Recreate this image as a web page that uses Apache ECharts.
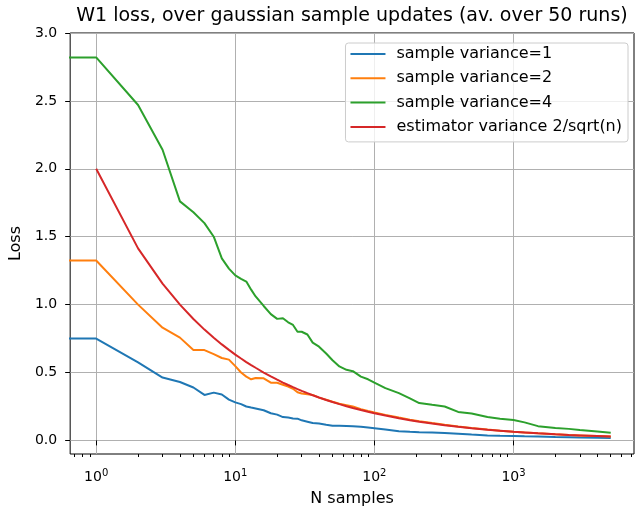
<!DOCTYPE html>
<html>
<head>
<meta charset="utf-8">
<title>W1 loss</title>
<script src="https://cdn.jsdelivr.net/npm/echarts@6.0.0/dist/echarts.min.js"></script>
<style>
    html, body { margin: 0; padding: 0; background: #fff; }
    #chart { width: 635px; height: 512px; }
</style>
</head>
<body>
<div id="chart"></div>
<script>
// n samples, the first point stands for n=0 (matplotlib clips it to the left edge)
var nSamples = [0.1, 1, 2, 3, 4, 5, 6, 7, 8, 9, 10, 11, 12, 13, 14, 16, 18, 20, 22, 24, 26, 28, 30, 33, 36, 40, 45, 50, 56, 63,
    70, 80, 90, 100, 120, 150, 180, 210, 260, 320, 400, 500, 650, 800, 1000, 1200, 1500, 2000, 2500, 3000, 4000, 5000];
var lossVar1 = [0.75, 0.75, 0.575, 0.463, 0.43, 0.39, 0.335, 0.352, 0.338, 0.30,
    0.28, 0.267, 0.25, 0.242, 0.235, 0.222, 0.20, 0.19, 0.172, 0.168,
    0.162, 0.16, 0.148, 0.138, 0.128, 0.124, 0.115, 0.108, 0.108, 0.107,
    0.105, 0.10, 0.095, 0.09, 0.08, 0.068, 0.064, 0.061, 0.058, 0.054,
    0.049, 0.043, 0.037, 0.034, 0.033, 0.031, 0.029, 0.026, 0.024, 0.022,
    0.019, 0.017];
var lossVar2 = [1.325, 1.325, 1.00, 0.83, 0.757, 0.665, 0.665, 0.635, 0.607, 0.595,
    0.547, 0.50, 0.47, 0.45, 0.46, 0.457, 0.425, 0.425, 0.41, 0.397,
    0.38, 0.355, 0.345, 0.34, 0.335, 0.315, 0.30, 0.285, 0.27, 0.26,
    0.25, 0.23, 0.217, 0.206, 0.188, 0.168, 0.153, 0.142, 0.128, 0.115,
    0.103, 0.092, 0.08, 0.072, 0.064, 0.058, 0.052, 0.045, 0.04, 0.037,
    0.032, 0.029];
var lossVar4 = [2.82, 2.82, 2.47, 2.14, 1.76, 1.68, 1.60, 1.50, 1.34, 1.265,
    1.215, 1.19, 1.17, 1.11, 1.06, 0.99, 0.93, 0.895, 0.90, 0.87,
    0.85, 0.80, 0.80, 0.78, 0.72, 0.69, 0.64, 0.59, 0.545, 0.52,
    0.51, 0.47, 0.45, 0.425, 0.385, 0.348, 0.31, 0.275, 0.262, 0.25,
    0.21, 0.198, 0.172, 0.16, 0.15, 0.133, 0.105, 0.092, 0.085, 0.076,
    0.066, 0.057];
// estimator 2/sqrt(n) starts at n=1
var nEstimator = nSamples.slice(1);
var lossEstimator = [2.0, 1.414, 1.155, 1.0, 0.894, 0.816, 0.756, 0.707, 0.667, 0.632,
    0.603, 0.577, 0.555, 0.535, 0.5, 0.471, 0.447, 0.426, 0.408, 0.392,
    0.378, 0.365, 0.348, 0.333, 0.316, 0.298, 0.283, 0.267, 0.252, 0.239,
    0.224, 0.211, 0.2, 0.183, 0.163, 0.149, 0.138, 0.124, 0.112, 0.1,
    0.089, 0.078, 0.071, 0.063, 0.058, 0.052, 0.045, 0.04, 0.037, 0.032,
    0.028];

var seriesNames = ['sample variance=1', 'sample variance=2', 'sample variance=4', 'estimator variance 2/sqrt(n)'];
var xMajorTicks = [1, 10, 100, 1000];
var xMinorTicks = [0.7, 0.8, 0.9, 2, 3, 4, 5, 6, 7, 8, 9, 20, 30, 40, 50, 60, 70, 80, 90,
    200, 300, 400, 500, 600, 700, 800, 900, 2000, 3000, 4000, 5000, 6000, 7000];
var yTicks = [0, 0.5, 1.0, 1.5, 2.0, 2.5, 3.0];

var FONT = 'DejaVu Sans';
var colors = ['#1f77b4', '#ff7f0e', '#2ca02c', '#d62728'];

function pairs(xs, ys) {
    return xs.map(function (x, i) { return [x, ys[i]]; });
}

function lineSeries(name, data, color) {
    return {
        name: name,
        type: 'line',
        data: data,
        symbol: 'none',
        clip: true,
        lineStyle: { color: color, width: 2 },
        itemStyle: { color: color },
        emphasis: { disabled: true }
    };
}

var chart = echarts.init(document.getElementById('chart'));
var option = {
    animation: false,
    textStyle: { fontFamily: FONT },
    graphic: [{
        type: 'text',
        x: 352,
        y: 16,
        style: {
            text: 'W1 loss, over gaussian sample updates (av. over 50 runs)',
            font: '19px "DejaVu Sans"',
            fill: '#000',
            align: 'center',
            verticalAlign: 'middle'
        }
    }],
    legend: {
        orient: 'vertical',
        right: 7,
        top: 43,
        icon: 'rect',
        itemWidth: 35,
        itemHeight: 2,
        itemGap: 8.3,
        padding: [3, 6, 7, 5],
        backgroundColor: 'rgba(255,255,255,0.8)',
        borderColor: '#cccccc',
        borderWidth: 1,
        borderRadius: 3,
        textStyle: { fontFamily: FONT, fontSize: 16, color: '#000', lineHeight: 16, padding: [0, 0, 0, 6] },
        data: seriesNames
    },
    grid: {
        left: 68,
        top: 33,
        right: 1,
        bottom: 55,
        show: true,
        borderColor: '#000',
        borderWidth: 1,
        backgroundColor: 'transparent'
    },
    xAxis: [{
        type: 'log',
        logBase: 10,
        min: 0.65,
        max: 7350,
        name: 'N samples',
        nameLocation: 'middle',
        nameGap: 37,
        nameTextStyle: { fontFamily: FONT, fontSize: 16, color: '#000', verticalAlign: 'top' },
        axisLine: { show: false },
        axisTick: { show: true, length: 5, lineStyle: { color: '#000' }, customValues: xMajorTicks },
        axisLabel: {
            customValues: xMajorTicks,
            margin: 14,
            color: '#000',
            fontFamily: FONT,
            fontSize: 14,
            formatter: function (v) {
                return '10{sup|' + Math.round(Math.log10(v)) + '}';
            },
            rich: {
                sup: { fontSize: 10, fontFamily: FONT, color: '#000', padding: [0, 0, 8, 0] }
            }
        },
        splitLine: { show: true, lineStyle: { color: '#b0b0b0', width: 1 } }
    }, {
        type: 'log',
        logBase: 10,
        min: 0.65,
        max: 7350,
        position: 'bottom',
        axisLine: { show: false },
        axisLabel: { show: false },
        splitLine: { show: false },
        axisTick: { show: true, length: 3, lineStyle: { color: '#000' }, customValues: xMinorTicks }
    }],
    yAxis: {
        type: 'value',
        min: -0.1,
        max: 3.0,
        name: 'Loss',
        nameLocation: 'middle',
        nameGap: 41,
        nameTextStyle: { fontFamily: FONT, fontSize: 16, color: '#000' },
        axisLine: { show: false },
        axisTick: { show: true, length: 5, lineStyle: { color: '#000' }, customValues: yTicks },
        axisLabel: {
            customValues: yTicks,
            margin: 13,
            color: '#000',
            fontFamily: FONT,
            fontSize: 14,
            formatter: function (v) { return v.toFixed(1); }
        },
        splitLine: { show: true, lineStyle: { color: '#b0b0b0', width: 1 } }
    },
    series: [
        lineSeries(seriesNames[0], pairs(nSamples, lossVar1), colors[0]),
        lineSeries(seriesNames[1], pairs(nSamples, lossVar2), colors[1]),
        lineSeries(seriesNames[2], pairs(nSamples, lossVar4), colors[2]),
        lineSeries(seriesNames[3], pairs(nEstimator, lossEstimator), colors[3])
    ]
};
chart.setOption(option);

window.onresize = function () {
    chart.resize();
};
</script>
</body>
</html>
